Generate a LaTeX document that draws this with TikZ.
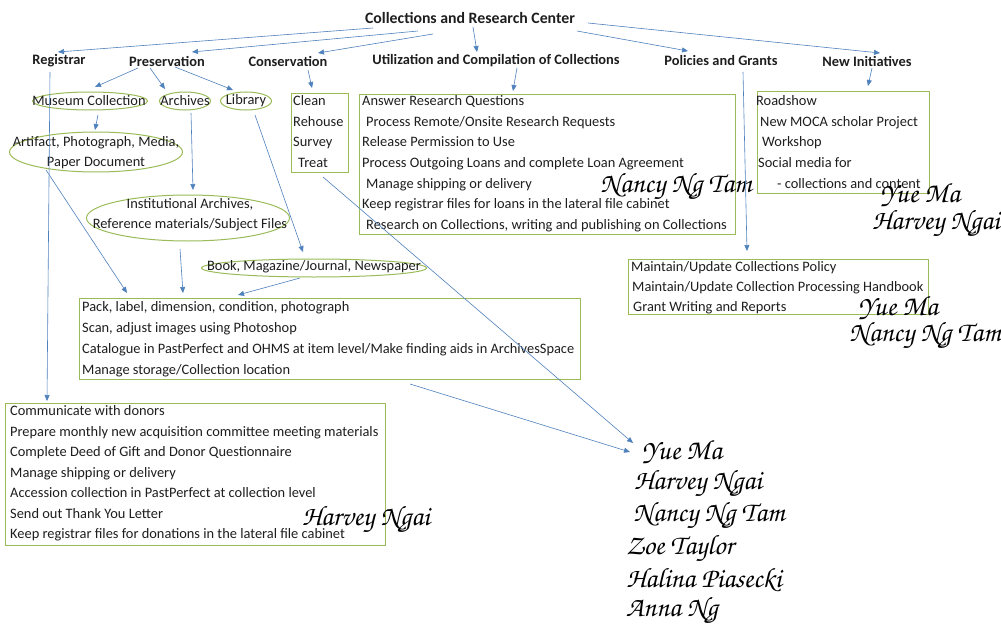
\documentclass[tikz,border=0pt]{standalone}
\usepackage{fontspec}
\setmainfont{Carlito}
\newfontfamily\handfont{TeX Gyre Chorus}
\usetikzlibrary{arrows.meta,shapes.geometric}
\definecolor{boxgreen}{RGB}{155,187,89}
\definecolor{arrowblue}{RGB}{79,129,189}
\definecolor{txtgray}{RGB}{30,30,30}
\begin{document}
\begin{tikzpicture}[x=1pt,y=-1pt,
  every node/.style={text=txtgray},
  head/.style={font=\fontsize{14.4}{17}\selectfont\bfseries, inner sep=0pt},
  box/.style={draw=boxgreen, line width=1pt, anchor=north west, inner sep=0pt},
  ell/.style={draw=boxgreen, line width=1pt, ellipse, inner sep=0pt},
  lbl/.style={font=\fontsize{14.4}{20}\selectfont, inner sep=0pt, align=center},
  list/.style={font=\fontsize{14.4}{20.6}\selectfont, inner sep=0pt, align=left, anchor=north west},
  arr/.style={draw=arrowblue, line width=0.6pt, -{Triangle[width=5pt,length=6pt]}},
  sig/.style={font=\handfont\fontsize{28}{30}\selectfont, text=black, inner sep=0pt},
]
\useasboundingbox[fill=white] (0,0) rectangle (1001,626);

% title and headings
\node[head, font=\fontsize{15.8}{18}\selectfont\bfseries] (title) at (470,18) {Collections and Research Center};
\node[head] (reg) at (59,61) {Registrar};
\node[head] (pres) at (167,61) {Preservation};
\node[head] (cons) at (288,61) {Conservation};
\node[head] (util) at (496,61) {Utilization and Compilation of Collections};
\node[head] (pol) at (721,61) {Policies and Grants};
\node[head] (newi) at (867,61) {New Initiatives};

% ellipses
\node[ell, minimum width=115, minimum height=18] (museum) at (90,101) {};
\node[lbl] (museumtxt) at (89,101) {Museum Collection};
\node[ell, minimum width=51, minimum height=18] (archives) at (185,101) {};
\node[lbl] (archivestxt) at (185,101) {Archives};
\node[ell, minimum width=51, minimum height=18] (library) at (246,101) {};
\node[lbl] (librarytxt) at (246,101) {Library};
\node[ell, minimum width=173, minimum height=40] (artifact) at (96,152) {};
\node[lbl] (artifacttxt) at (96,153) {Artifact, Photograph, Media,\\Paper Document};
\node[ell, minimum width=203, minimum height=46] (inst) at (188,218) {};
\node[lbl] (insttxt) at (190,215) {Institutional Archives,\\Reference materials/Subject Files};
\node[ell, minimum width=225, minimum height=18] (book) at (314,268) {};
\node[lbl] (booktxt) at (314,267) {Book, Magazine/Journal, Newspaper};

% boxes
\node[box, minimum width=57, minimum height=79] (consbox) at (291,93) {};
\node[list] (constxt) at (293,95.5) {Clean\\Rehouse\\Survey\\\hspace*{5pt}Treat};

\node[box, minimum width=376, minimum height=140] (utilbox) at (359,94) {};
\node[list] (utiltxt) at (362,95.5) {Answer Research Questions\\
\hspace*{4pt}Process Remote/Onsite Research Requests\\
Release Permission to Use\\
Process Outgoing Loans and complete Loan Agreement\\
\hspace*{4pt}Manage shipping or delivery\\
Keep registrar files for loans in the lateral file cabinet\\
\hspace*{4pt}Research on Collections, writing and publishing on Collections};

\node[box, minimum width=172, minimum height=102] (nibox) at (757,91) {};
\node[list] (nitxt) at (756,95.5) {Roadshow\\
\hspace*{4pt}New MOCA scholar Project\\
\hspace*{6pt}Workshop\\
\hspace*{2pt}Social media for\\
\hspace*{21pt}- collections and content};

\node[box, minimum width=300, minimum height=55] (polbox) at (628,259) {};
\node[list, font=\fontsize{14.4}{20}\selectfont] (poltxt) at (631,261.5) {Maintain/Update Collections Policy\\
\hspace*{1pt}Maintain/Update Collection Processing Handbook\\
\hspace*{2pt}Grant Writing and Reports};

\node[box, minimum width=501, minimum height=81] (procbox) at (79,298) {};
\node[list, font=\fontsize{14.4}{20.8}\selectfont] (proctxt) at (82,301.5) {Pack, label, dimension, condition, photograph\\
Scan, adjust images using Photoshop\\
Catalogue in PastPerfect and OHMS at item level/Make finding aids in ArchivesSpace\\
Manage storage/Collection location};

\node[box, minimum width=380, minimum height=142] (regbox) at (5,403) {};
\node[list, font=\fontsize{14.4}{20.5}\selectfont] (regtxt) at (10,405.5) {Communicate with donors\\
Prepare monthly new acquisition committee meeting materials\\
Complete Deed of Gift and Donor Questionnaire\\
Manage shipping or delivery\\
Accession collection in PastPerfect at collection level\\
Send out Thank You Letter\\
Keep registrar files for donations in the lateral file cabinet};

% signatures
\node[sig] (sigutil) at (676,186) {Nancy Ng Tam};
\node[sig] (signi1) at (920,195) {Yue Ma};
\node[sig] (signi2) at (936,223) {Harvey Ngai};
\node[sig] (sigpol1) at (898,308) {Yue Ma};
\node[sig] (sigpol2) at (925,335) {Nancy Ng Tam};
\node[sig] (sigreg) at (366,519) {Harvey Ngai};
\node[sig] (s1) at (682,452) {Yue Ma};
\node[sig] (s2) at (698,483) {Harvey Ngai};
\node[sig] (s3) at (709,515) {Nancy Ng Tam};
\node[sig] (s4) at (680,548) {Zoe Taylor};
\node[sig] (s5) at (704,580) {Halina Piasecki};
\node[sig] (s6) at (672,610) {Anna Ng};

% arrows from title
\draw[arr] ([shift={(-97,10)}]title.center) -- ([shift={(-1,-9)}]reg.center);
\draw[arr] ([shift={(-52,13)}]title.center) -- ([shift={(25,-9)}]pres.center);
\draw[arr] ([shift={(-37,16)}]title.center) -- ([shift={(30,-8)}]cons.center);
\draw[arr] ([shift={(3,9)}]title.center) -- ([shift={(-19,-9)}]util.center);
\draw[arr] ([shift={(107,13)}]title.center) -- ([shift={(-33,-10)}]pol.center);
\draw[arr] ([shift={(118,5)}]title.center) -- ([shift={(13,-8)}]newi.center);

% preservation
\draw[arr] ([shift={(-29,7)}]pres.center) -- ([shift={(5,-14)}]museum.center);
\draw[arr] ([shift={(-17,7)}]pres.center) -- ([shift={(-20,-12)}]archives.center);
\draw[arr] ([shift={(8,6)}]pres.center) -- ([shift={(-13,-11)}]library.center);
\draw[arr] ([shift={(8,14)}]museum.center) -- ([shift={(-1,-22)}]artifact.center);
\draw[arr] ([shift={(6,12)}]archives.center) -- ([shift={(5,-28)}]inst.center);
\draw[arr] ([shift={(9,14)}]library.center) -- ([shift={(-11,-16)}]book.center);
\draw[arr] ([shift={(-50,18)}]artifact.center) -- ([shift={(48,-5)}]procbox.north west);
\draw[arr] ([shift={(-8,31)}]inst.center) -- ([shift={(104,-5)}]procbox.north west);
\draw[arr] ([shift={(-14,10)}]book.center) -- ([shift={(159,-3)}]procbox.north west);

% other headings to boxes
\draw[arr] ([shift={(-9,11)}]reg.center) -- ([shift={(42,-2)}]regbox.north west);
\draw[arr] ([shift={(20,9)}]cons.center) -- ([shift={(-8,-5)}]consbox.north);
\draw[arr] ([shift={(21,7)}]util.center) -- ([shift={(154,-3)}]utilbox.north west);
\draw[arr] ([shift={(22,11)}]pol.center) -- ([shift={(119,-8)}]polbox.north west);
\draw[arr] ([shift={(5,7)}]newi.center) -- ([shift={(111,-5)}]nibox.north west);

% to signature list
\draw[arr] ([shift={(3,4)}]consbox.south) -- ([shift={(-49,-9)}]s1.center);
\draw[arr] ([shift={(331,4)}]procbox.south west) -- ([shift={(-52,0)}]s1.center);
\end{tikzpicture}
\end{document}
